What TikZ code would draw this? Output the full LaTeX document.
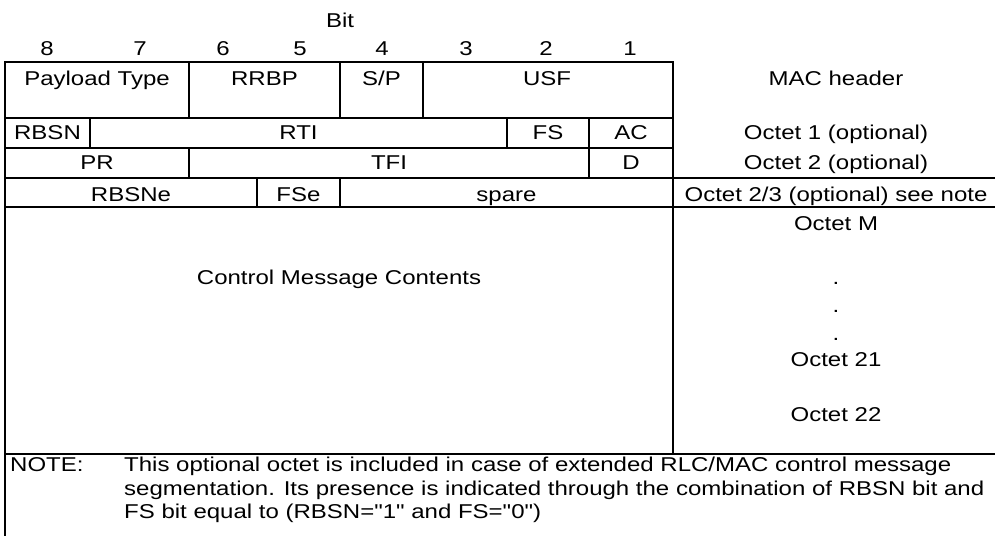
\documentclass[tikz,border=0pt]{standalone}
\usepackage{fontspec}
\setmainfont{Liberation Sans}[FakeStretch=1.2,Ligatures=TeXOff]
\begin{document}
\begin{tikzpicture}[x=1pt,y=-1pt,
  grid/.style={line width=2pt,line cap=rect},
  lbl/.style={anchor=base,inner sep=0pt,font=\fontsize{20}{24}\selectfont},
  notetxt/.style={anchor=base west,inner sep=0pt,font=\fontsize{20}{24}\selectfont}]
\useasboundingbox (0,0) rectangle (995,535);
% table lines
\draw[grid] (5,62) -- (673,62);
\draw[grid] (5,118) -- (673,118);
\draw[grid] (5,148) -- (673,148);
\draw[grid] (5,178) -- (995,178);
\draw[grid] (5,206.5) -- (995,206.5);
\draw[grid] (5,454) -- (995,454);
\draw[grid] (5,62) -- (5,535);
\draw[grid] (673,62) -- (673,454);
\draw[grid] (189,62) -- (189,118);
\draw[grid] (340,62) -- (340,118);
\draw[grid] (423,62) -- (423,118);
\draw[grid] (90,118) -- (90,148);
\draw[grid] (507,118) -- (507,148);
\draw[grid] (589,118) -- (589,178);
\draw[grid] (189,148) -- (189,178);
\draw[grid] (257,178) -- (257,206.5);
\draw[grid] (340,178) -- (340,206.5);
% header
\node[lbl] (bit) at (340,28) {Bit};
\node[lbl] (b8) at (47,56) {8};
\node[lbl] (b7) at (140,56) {7};
\node[lbl] (b6) at (223,56) {6};
\node[lbl] (b5) at (300,56) {5};
\node[lbl] (b4) at (382,56) {4};
\node[lbl] (b3) at (466,56) {3};
\node[lbl] (b2) at (546,56) {2};
\node[lbl] (b1) at (630,56) {1};
% row 1
\node[lbl] (pt) at (97,85) {Payload Type};
\node[lbl] (rrbp) at (264.5,85) {RRBP};
\node[lbl] (sp) at (381.5,85) {S/P};
\node[lbl] (usf) at (547,85) {USF};
\node[lbl] (mac) at (836,85) {MAC header};
% row 2
\node[lbl] (rbsn) at (47.5,139) {RBSN};
\node[lbl] (rti) at (298.5,139) {RTI};
\node[lbl] (fs) at (548,139) {FS};
\node[lbl] (ac) at (631,139) {AC};
\node[lbl] (o1) at (836,139) {Octet 1 (optional)};
% row 3
\node[lbl] (pr) at (97,169) {PR};
\node[lbl] (tfi) at (389,169) {TFI};
\node[lbl] (d) at (631,169) {D};
\node[lbl] (o2) at (836,169) {Octet 2 (optional)};
% row 4
\node[lbl] (rbsne) at (131,201) {RBSNe};
\node[lbl] (fse) at (298.5,201) {FSe};
\node[lbl] (spare) at (506.5,201) {spare};
\node[lbl] (o23) at (836,201) {Octet 2/3 (optional) see note};
% row 5
\node[lbl] (cmc) at (339,284) {Control Message Contents};
\node[lbl] (om) at (836,230) {Octet M};
\node[lbl] (d1) at (836,284) {.};
\node[lbl] (d2) at (836,312) {.};
\node[lbl] (d3) at (836,340) {.};
\node[lbl] (o21) at (836,366.5) {Octet 21};
\node[lbl] (o22) at (836,421.5) {Octet 22};
% note
\node[notetxt] (note) at (10,471.5) {NOTE:};
\node[notetxt] (n1) at (124,471.5) {This optional octet is included in case of extended RLC/MAC control message};
\node[notetxt] (n2) at (124,495) {segmentation. Its presence is indicated through the combination of RBSN bit and};
\node[notetxt] (n3) at (124,518.3) {FS bit equal to (RBSN="1" and FS="0")};
\end{tikzpicture}
\end{document}
